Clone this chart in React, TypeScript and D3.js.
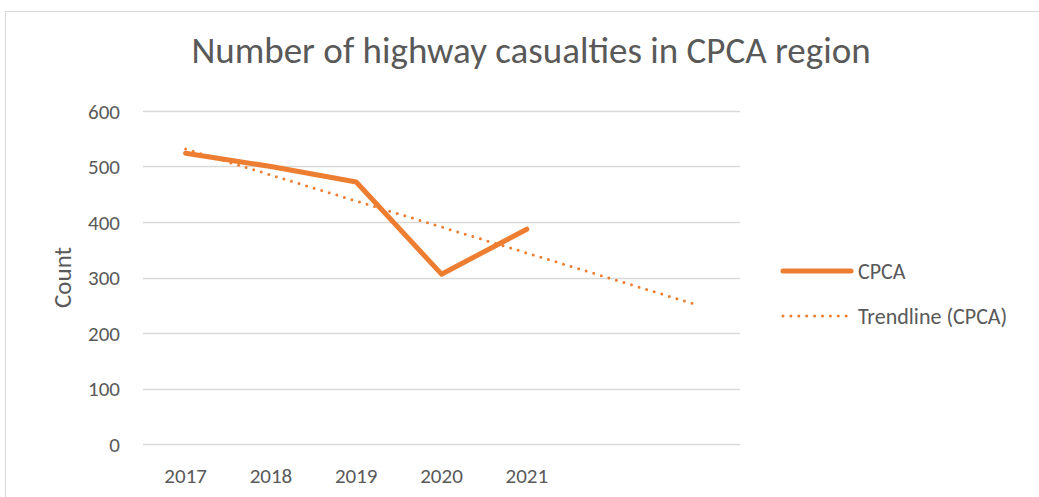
import * as d3 from "d3";
import React, { useRef, useEffect } from "react";

const years = ["2017", "2018", "2019", "2020", "2021"];
const casualties = [524, 500, 472, 306, 387];
const forecastSlots = ["2022", "2023"];
const yTicks = [0, 100, 200, 300, 400, 500, 600];

const ORANGE = "#ED7D31";
const TEXT = "#595959";
const GRID = "#d9d9d9";
const FONT = "Carlito, Lato, 'Open Sans', sans-serif";

function App() {
    const ref = useRef(null);
    const width = 1039;
    const height = 497;
    const margin = { top: 111, left: 143, right: 299, bottom: 53 };

    useEffect(() => {
        const svg = d3.select(ref.current);
        svg.selectAll("*").remove();

        const chartWidth = width - margin.left - margin.right;
        const chartHeight = height - margin.top - margin.bottom;

        const allCats = years.concat(forecastSlots);
        const xScale = d3.scaleBand().domain(allCats).range([0, chartWidth]);
        const yScale = d3.scaleLinear().domain([0, 600]).range([chartHeight, 0]);
        const cx = (c) => xScale(c) + xScale.bandwidth() / 2;

        // chart area border
        svg.append("rect")
            .attr("x", 5.5)
            .attr("y", 11.5)
            .attr("width", width)
            .attr("height", height)
            .attr("fill", "white")
            .attr("stroke", GRID);

        svg.append("text")
            .attr("x", 531)
            .attr("y", 63)
            .attr("text-anchor", "middle")
            .attr("font-size", 37)
            .attr("fill", TEXT)
            .text("Number of highway casualties in CPCA region");

        const chart = svg
            .append("g")
            .attr("transform", `translate(${margin.left}, ${margin.top})`);

        chart.selectAll("line.grid")
            .data(yTicks)
            .enter()
            .append("line")
            .attr("class", "grid")
            .attr("x1", 0)
            .attr("x2", chartWidth)
            .attr("y1", (d) => Math.round(yScale(d)) + 0.5)
            .attr("y2", (d) => Math.round(yScale(d)) + 0.5)
            .attr("stroke", GRID)
            .attr("stroke-width", 1.5);

        chart.selectAll("text.ytick")
            .data(yTicks)
            .enter()
            .append("text")
            .attr("class", "ytick")
            .attr("x", -23)
            .attr("y", (d) => yScale(d))
            .attr("dy", "0.36em")
            .attr("text-anchor", "end")
            .attr("font-size", 21)
            .attr("fill", TEXT)
            .text((d) => d);

        chart.selectAll("text.xtick")
            .data(years)
            .enter()
            .append("text")
            .attr("class", "xtick")
            .attr("x", (d) => cx(d))
            .attr("y", chartHeight + 39)
            .attr("text-anchor", "middle")
            .attr("font-size", 21)
            .attr("fill", TEXT)
            .text((d) => d);

        chart.append("text")
            .attr("transform", `translate(-72, ${chartHeight / 2}) rotate(-90)`)
            .attr("text-anchor", "middle")
            .attr("font-size", 25)
            .attr("fill", TEXT)
            .text("Count");

        // linear trendline (least squares), forecast forward 2 periods
        const xs = years.map((d, i) => i + 1);
        const mx = d3.mean(xs);
        const my = d3.mean(casualties);
        const slope =
            d3.sum(xs, (x, i) => (x - mx) * (casualties[i] - my)) /
            d3.sum(xs, (x) => (x - mx) * (x - mx));
        const intercept = my - slope * mx;
        const trend = allCats.map((c, i) => [c, intercept + slope * (i + 1)]);

        const line = d3
            .line()
            .x((d) => cx(d[0]))
            .y((d) => yScale(d[1]));

        chart.append("path")
            .datum(years.map((y, i) => [y, casualties[i]]))
            .attr("d", line)
            .attr("fill", "none")
            .attr("stroke", ORANGE)
            .attr("stroke-width", 5)
            .attr("stroke-linejoin", "round")
            .attr("stroke-linecap", "round");

        chart.append("path")
            .datum([trend[0], trend[trend.length - 1]])
            .attr("d", line)
            .attr("fill", "none")
            .attr("stroke", ORANGE)
            .attr("stroke-width", 3)
            .attr("stroke-dasharray", "0 7.9")
            .attr("stroke-linecap", "round");

        // legend
        const legend = svg.append("g").attr("transform", "translate(783, 0)");
        legend.append("line")
            .attr("x1", 0).attr("x2", 68)
            .attr("y1", 271).attr("y2", 271)
            .attr("stroke", ORANGE)
            .attr("stroke-width", 5)
            .attr("stroke-linecap", "round");
        legend.append("text")
            .attr("x", 75).attr("y", 271)
            .attr("dy", "0.36em")
            .attr("font-size", 22)
            .attr("fill", TEXT)
            .text("CPCA");
        legend.append("line")
            .attr("x1", 0).attr("x2", 68)
            .attr("y1", 316).attr("y2", 316)
            .attr("stroke", ORANGE)
            .attr("stroke-width", 3)
            .attr("stroke-dasharray", "0 7.9")
            .attr("stroke-linecap", "round");
        legend.append("text")
            .attr("x", 75).attr("y", 316)
            .attr("dy", "0.36em")
            .attr("font-size", 22)
            .attr("fill", TEXT)
            .text("Trendline (CPCA)");
    }, []);

    return (
        <div style={{ position: "absolute", left: 0, top: 0 }}>
            <svg
                ref={ref}
                width={width}
                height={height}
                style={{ display: "block", fontFamily: FONT }}
            ></svg>
        </div>
    );
}

export default App;
